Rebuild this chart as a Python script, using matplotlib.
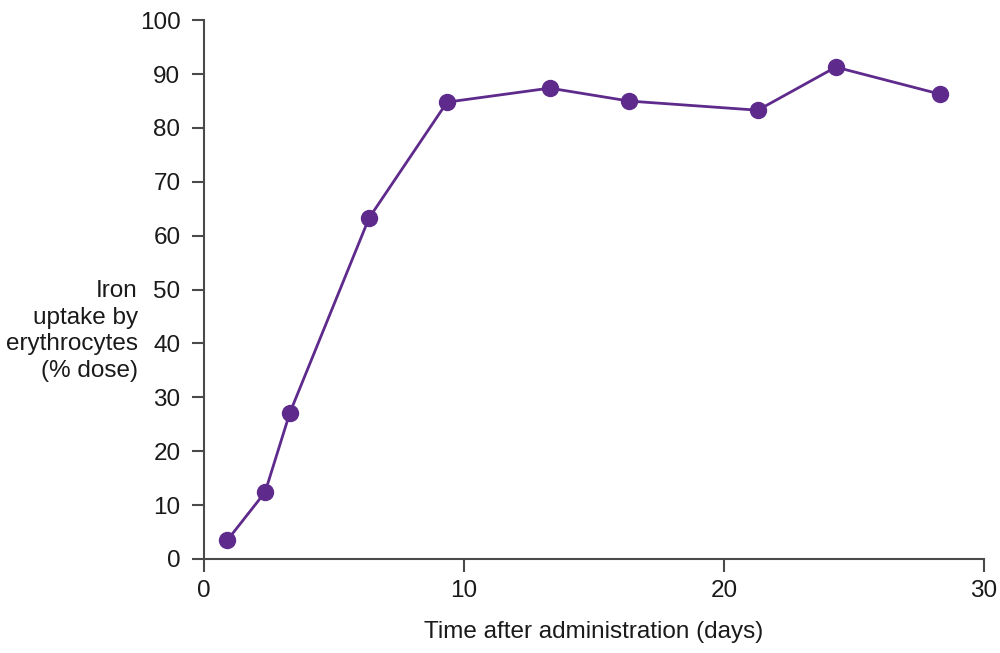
import matplotlib
matplotlib.use("Agg")
import matplotlib.pyplot as plt

plt.rcParams['font.family'] = ['Liberation Sans', 'DejaVu Sans']

days = [0.9, 2.35, 3.3, 6.35, 9.35, 13.3, 16.35, 21.3, 24.3, 28.3]
uptake = [3.5, 12.4, 27.1, 63.3, 84.8, 87.4, 85.0, 83.3, 91.3, 86.3]

purple = '#5e2a8c'
axis_grey = '#4a4a4a'

fig = plt.figure(figsize=(10, 6.53), dpi=100)
ax = fig.add_axes([0.204, 0.144, 0.78, 0.825])

ax.plot(days, uptake, color=purple, lw=2, marker='o', ms=11.5, clip_on=False)

ax.set_xlim(0, 30)
ax.set_ylim(0, 100)
ax.set_xticks([0, 10, 20, 30])
ax.set_yticks(range(0, 101, 10))

for side in ['top', 'right']:
    ax.spines[side].set_visible(False)
for side in ['left', 'bottom']:
    ax.spines[side].set_color(axis_grey)
    ax.spines[side].set_linewidth(1.5)
ax.tick_params(colors=axis_grey, labelcolor='#1a1a1a', width=1.5, length=9,
               labelsize=17.5, pad=6)
ax.tick_params(axis='y', pad=8)

ax.set_xlabel('Time after administration (days)', fontsize=17.5, color='#1a1a1a', labelpad=14)
fig.text(0.138, 0.493, 'Iron\nuptake by\nerythrocytes\n(% dose)', ha='right', va='center',
         fontsize=17.5, color='#1a1a1a', linespacing=1.27)

fig.savefig('out.png')
